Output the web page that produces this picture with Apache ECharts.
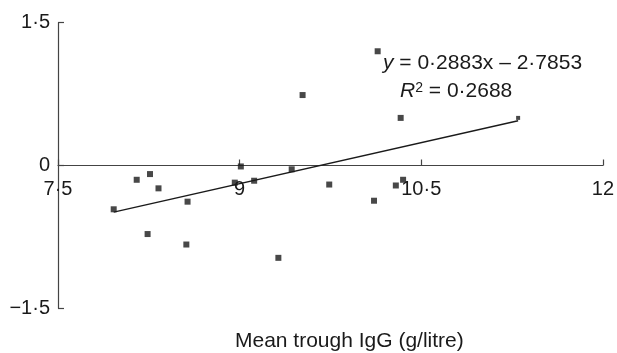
<!DOCTYPE html>
<html>
<head>
<meta charset="utf-8">
<script src="https://cdn.jsdelivr.net/npm/echarts@6/dist/echarts.min.js"></script>
<style>
html,body{margin:0;padding:0;background:#fff;}
#c{width:617px;height:353px;}
</style>
</head>
<body>
<div id="c"></div>
<script>
// Data
var igg = [7.96, 8.15, 8.26, 8.33, 8.24, 8.57, 8.56, 8.96, 9.01, 9.12, 9.32, 9.43, 9.52, 9.74, 10.11, 10.14, 10.29, 10.35, 10.33, 11.30];
var change = [-0.46, -0.15, -0.09, -0.24, -0.72, -0.38, -0.83, -0.18, -0.01, -0.16, -0.97, -0.04, 0.74, -0.20, -0.37, 1.20, -0.21, -0.15, 0.50, 0.50];
var trendX = [7.96, 11.30];
var trendY = [-0.49, 0.47];
var xTicks = [7.5, 9, 10.5, 12];
var yTicks = [-1.5, 0, 1.5];
var xTitle = 'Mean trough IgG (g/litre)';
var eqText = '0·2883x – 2·7853';
var r2Text = '0·2688';

var FONT = '"Liberation Sans", Arial, Helvetica, sans-serif';
var INK = '#1a1a1a';
function fmt(v){ return String(v).replace('.', '·').replace('-', '−'); }

var pts = igg.map(function(x, i){ return [x, change[i]]; });
var trend = trendX.map(function(x, i){ return [x, trendY[i]]; });

var GTOP = 22.7, GBOT = 44.7, H = 353;
var gridH = H - GTOP - GBOT;
// zero sits in the middle of the symmetric y range
var zeroOffset = -gridH * (0 - yTicks[0]) / (yTicks[yTicks.length-1] - yTicks[0]);

var chart = echarts.init(document.getElementById('c'), null, {renderer:'canvas'});
chart.setOption({
  animation: false,
  backgroundColor: '#fff',
  grid: {left: 58, right: 10.5, top: GTOP, bottom: GBOT, containLabel: false},
  xAxis: {
    type: 'value', min: xTicks[0], max: xTicks[xTicks.length-1], interval: 1.5,
    position: 'bottom', offset: zeroOffset,
    splitLine: {show: false},
    axisLine: {onZero: false, lineStyle: {color: '#444', width: 1.2}},
    axisTick: {show: true, inside: true, length: 6, lineStyle: {color: '#444', width: 1.2}},
    axisLabel: {margin: 14, color: INK, fontFamily: FONT, fontSize: 20, formatter: fmt, showMinLabel: true, showMaxLabel: true}
  },
  yAxis: {
    type: 'value', min: yTicks[0], max: yTicks[yTicks.length-1], interval: 1.5,
    splitLine: {show: false},
    axisLine: {show: true, onZero: false, lineStyle: {color: '#444', width: 1.2}},
    axisTick: {show: true, inside: true, length: 6, lineStyle: {color: '#444', width: 1.2}},
    axisLabel: {margin: 8, color: INK, fontFamily: FONT, fontSize: 20, formatter: fmt}
  },
  series: [
    {
      type: 'line', data: trend, showSymbol: false, symbol: 'none', silent: true,
      lineStyle: {color: INK, width: 1.3}, z: 2
    },
    {
      type: 'scatter', data: pts, symbol: 'rect',
      symbolSize: function(v, p){ return p.dataIndex === pts.length - 1 ? 4 : 6; },
      itemStyle: {color: INK}, z: 3
    }
  ],
  graphic: [
    {
      type: 'text', left: 383, top: 53, z: 10,
      style: {
        text: '{i|y} = ' + eqText,
        font: '21px ' + FONT, fill: INK,
        rich: {i: {fontStyle: 'italic', fontFamily: FONT, fontSize: 21, fill: INK}}
      }
    },
    {
      type: 'text', left: 400, top: 81, z: 10,
      style: {
        text: '{i|R}{s|2} = ' + r2Text,
        font: '21px ' + FONT, fill: INK,
        rich: {
          i: {fontStyle: 'italic', fontFamily: FONT, fontSize: 21, fill: INK},
          s: {fontFamily: FONT, fontSize: 14, fill: INK, verticalAlign: 'top', lineHeight: 21}
        }
      }
    },
    {
      type: 'text', left: 235, top: 331, z: 10,
      style: {text: xTitle, font: '21px ' + FONT, fill: INK}
    }
  ]
});
</script>
</body>
</html>
